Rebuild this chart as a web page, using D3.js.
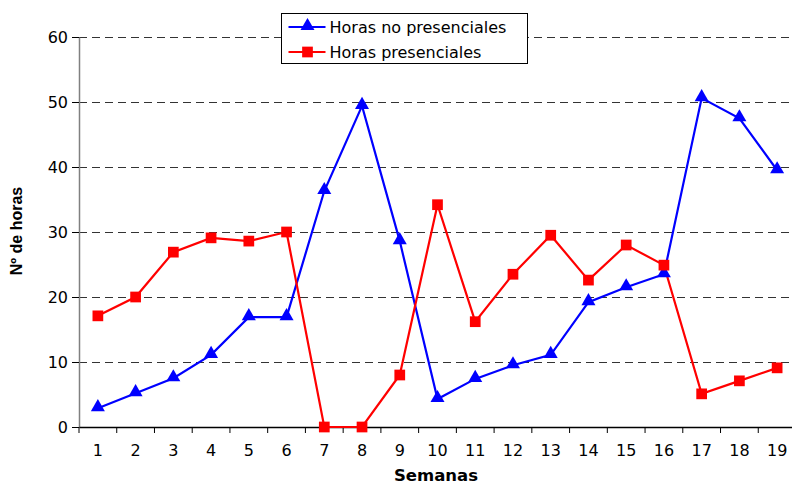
<!DOCTYPE html>
<html>
<head>
<meta charset="utf-8">
<script src="https://cdn.jsdelivr.net/npm/d3@7"></script>
<style>
  body { margin: 0; background: #fff; }
  text { font-family: "DejaVu Sans", "Liberation Sans", Arial, sans-serif; }
</style>
</head>
<body>
<div id="container"></div>
<script>
var semanas = [1, 2, 3, 4, 5, 6, 7, 8, 9, 10, 11, 12, 13, 14, 15, 16, 17, 18, 19];
var noPresenciales = [2.9, 5.2, 7.5, 11.1, 16.9, 16.9, 36.3, 49.4, 28.6, 4.3, 7.4, 9.5, 11.1, 19.2, 21.5, 23.5, 50.6, 47.5, 39.5];
var presenciales = [17.1, 20, 26.9, 29.1, 28.6, 30, 0, 0, 8, 34.2, 16.2, 23.5, 29.5, 22.6, 28, 24.9, 5.1, 7.1, 9.1];
var yTicks = [0, 10, 20, 30, 40, 50, 60];

var width = 792, height = 486;
var mLeft = 79, mRight = 796, mTop = 37, mBottom = 427;

var svg = d3.select("#container")
  .append("svg")
    .attr("width", width)
    .attr("height", height);

var x = d3.scaleBand()
  .domain(semanas)
  .range([mLeft, mRight]);

var y = d3.scaleLinear()
  .domain([0, 60])
  .range([mBottom, mTop]);

// grid lines
svg.append("g")
  .selectAll("line")
  .data(yTicks.filter(d => d > 0))
  .join("line")
    .attr("x1", mLeft)
    .attr("x2", width)
    .attr("y1", d => Math.round(y(d)) + 0.5)
    .attr("y2", d => Math.round(y(d)) + 0.5)
    .attr("stroke", "#333")
    .attr("stroke-width", 1)
    .attr("stroke-dasharray", "8,5");

// y axis
var yAxis = svg.append("g")
  .attr("transform", "translate(" + mLeft + ",0)")
  .call(d3.axisLeft(y).tickValues(yTicks).tickSize(7).tickSizeOuter(0));
yAxis.select(".domain").attr("stroke", "#808080").attr("stroke-width", 1.5);
yAxis.selectAll(".tick line").attr("stroke", "#000");
yAxis.selectAll("text").attr("font-size", 16).attr("fill", "#000").attr("x", -11)
  .style("font-family", "'DejaVu Sans', sans-serif");

// x axis (ticks between categories)
var xAxis = svg.append("g")
  .attr("transform", "translate(0," + mBottom + ")")
  .call(d3.axisBottom(x).tickSize(0).tickSizeOuter(0));
xAxis.select(".domain").attr("stroke", "#000").attr("stroke-width", 1.5);
xAxis.selectAll("text").attr("font-size", 16).attr("fill", "#000").attr("dy", "1.6em")
  .style("font-family", "'DejaVu Sans', sans-serif");
svg.append("g")
  .selectAll("line")
  .data(semanas)
  .join("line")
    .attr("x1", d => x(d))
    .attr("x2", d => x(d))
    .attr("y1", mBottom)
    .attr("y2", mBottom + 6)
    .attr("stroke", "#000");

var cx = d => x(d) + x.bandwidth() / 2;

var line = d3.line()
  .x((d, i) => cx(semanas[i]))
  .y(d => y(d));

svg.append("path")
  .datum(noPresenciales)
  .attr("fill", "none")
  .attr("stroke", "#0000ff")
  .attr("stroke-width", 2.2)
  .attr("d", line);

svg.append("path")
  .datum(presenciales)
  .attr("fill", "none")
  .attr("stroke", "#ff0000")
  .attr("stroke-width", 2.2)
  .attr("d", line);

var tri = d3.symbol().type(d3.symbolTriangle).size(85);
var sq = d3.symbol().type(d3.symbolSquare).size(115);

svg.append("g")
  .selectAll("path")
  .data(noPresenciales)
  .join("path")
    .attr("d", tri)
    .attr("fill", "#0000ff")
    .attr("transform", (d, i) => "translate(" + cx(semanas[i]) + "," + (y(d) - 1) + ")");

svg.append("g")
  .selectAll("path")
  .data(presenciales)
  .join("path")
    .attr("d", sq)
    .attr("fill", "#ff0000")
    .attr("transform", (d, i) => "translate(" + cx(semanas[i]) + "," + y(d) + ")");

// axis titles
svg.append("text")
  .attr("x", 436)
  .attr("y", 481)
  .attr("text-anchor", "middle")
  .attr("font-size", 16.5)
  .attr("font-weight", "bold")
  .text("Semanas");

svg.append("text")
  .attr("transform", "translate(22,231) rotate(-90)")
  .attr("text-anchor", "middle")
  .attr("font-size", 16)
  .attr("font-weight", "bold")
  .style("font-family", "'Liberation Sans', Arial, sans-serif")
  .text("Nº de horas");

// legend
var legend = svg.append("g").attr("transform", "translate(281.5,13.5)");
legend.append("rect")
  .attr("width", 246)
  .attr("height", 50)
  .attr("fill", "#fff")
  .attr("stroke", "#000")
  .attr("stroke-width", 1);

var items = [
  { name: "Horas no presenciales", color: "#0000ff", sym: tri, dy: -1 },
  { name: "Horas presenciales", color: "#ff0000", sym: sq, dy: 0 }
];
items.forEach(function (it, i) {
  var yy = 13.5 + i * 25;
  legend.append("line")
    .attr("x1", 7).attr("x2", 44)
    .attr("y1", yy).attr("y2", yy)
    .attr("stroke", it.color)
    .attr("stroke-width", 2.2);
  legend.append("path")
    .attr("d", it.sym)
    .attr("fill", it.color)
    .attr("transform", "translate(26," + (yy + it.dy) + ")");
  legend.append("text")
    .attr("x", 48)
    .attr("y", yy)
    .attr("dy", "0.35em")
    .attr("font-size", 16)
    .text(it.name);
});
</script>
</body>
</html>
